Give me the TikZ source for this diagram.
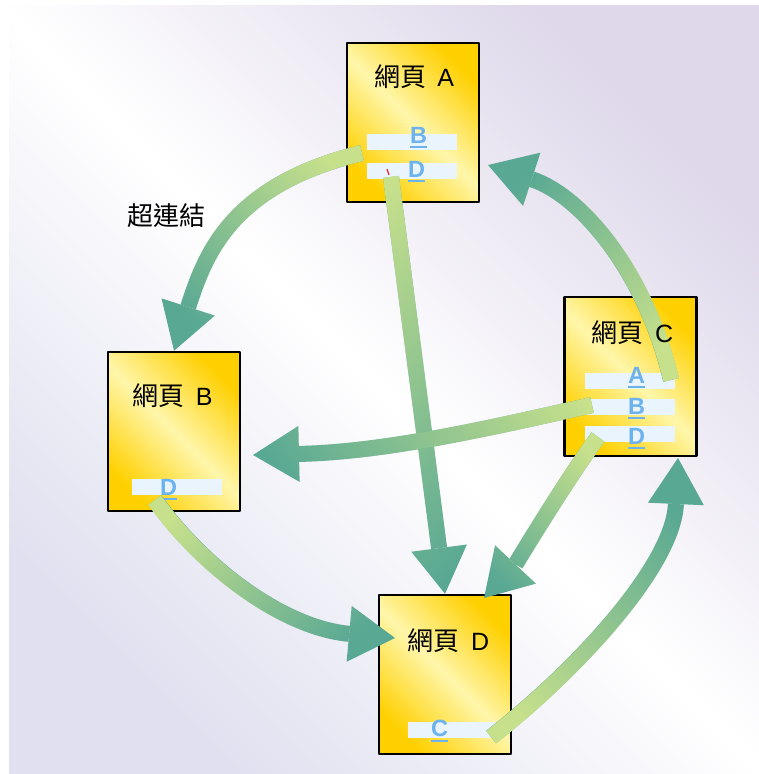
\documentclass[tikz,border=0pt]{standalone}
\usepackage{fontspec}
\setmainfont{Liberation Sans}
\newfontfamily\cjk{Noto Sans CJK TC}[Scale=1.04]
\usetikzlibrary{arrows.meta,fadings}

\definecolor{gold}{RGB}{255,208,0}
\definecolor{paleyellow}{RGB}{255,246,170}
\definecolor{lavtop}{RGB}{222,216,234}
\definecolor{lavbot}{RGB}{224,224,240}
\definecolor{barblue}{RGB}{234,244,252}
\definecolor{linkblue}{RGB}{108,178,236}
\definecolor{tailgreen}{RGB}{198,224,140}
\definecolor{headteal}{RGB}{88,168,148}

\tikzfading[name=tailfade, left color=transparent!0, right color=transparent!100]

% underlined link letter
\newcommand\ulk[1]{\setbox0=\hbox{#1}\rlap{\rule[-5pt]{\wd0}{2pt}}\box0}

\tikzset{
  pagebox/.style={draw=black, line width=2.5pt, minimum width=132pt, minimum height=159pt, inner sep=0pt,
    top color=gold, bottom color=gold, middle color=paleyellow, shading angle=-45},
  pagetitle/.style={font=\fontsize{25}{27}\selectfont, anchor=base, inner sep=0pt},
  linkbar/.style={fill=barblue, minimum width=90pt, minimum height=16pt, inner sep=0pt},
  linktext/.style={text=linkblue, font=\fontsize{23.5}{24}\selectfont\bfseries, anchor=base, inner sep=0pt},
  hyper/.style={line width=16pt, draw=headteal,
    -{Triangle[length=46pt, width=56pt, line width=0pt]},
    postaction={draw=tailgreen, path fading=tailfade, fading angle=#1}}
}

\begin{document}
\begin{tikzpicture}[x=1pt, y=-1pt, line join=round]
 % background
 \fill[white] (0,0) rectangle (759,774);
 \shade[top color=lavtop, bottom color=lavbot, middle color=white, shading angle=-45] (9,5) rectangle (759,774);
 \useasboundingbox (0,0) rectangle (759,774);

 % pages
 \node[pagebox] (pA) at (413,122.5) {};
 \node[pagebox] (pB) at (174,431.5) {};
 \node[pagebox] (pC) at (630.5,376.5) {};
 \node[pagebox] (pD) at (445,674.5) {};

 % link bars
 \node[linkbar] (lAB) at (412,142) {};
 \node[linkbar] (lAD) at (412,171) {};
 \node[linkbar] (lCA) at (630,381) {};
 \node[linkbar] (lCB) at (630,407) {};
 \node[linkbar] (lCD) at (630,434) {};
 \node[linkbar] (lBD) at (177,487) {};
 \node[linkbar] (lDC) at (453,730) {};

 \node[linktext] (kAB) at (418.5,143) {\ulk{B}};
 \node[linktext] (kAD) at (416.5,177) {\ulk{D}};
 \node[linktext] (kCA) at (636.5,383) {\ulk{A}};
 \node[linktext] (kCB) at (636.5,414) {\ulk{B}};
 \node[linktext] (kCD) at (636.5,444) {\ulk{D}};
 \node[linktext] (kBD) at (168.5,495) {\ulk{D}};
 \node[linktext] (kDC) at (439.5,736.5) {\ulk{C}};

 \draw[red, line width=1pt] (387,169) -- (389,175);

 \node[pagetitle] (hl) at (166.5,225) {\cjk 超連結};

 % hyperlinks
 \coordinate (sAB) at (362,153);
 \coordinate (sAD) at (391,177);
 \coordinate (sCA) at (671,380);
 \coordinate (sCB) at (592,405);
 \coordinate (sCD) at (598,437);
 \coordinate (sBD) at (155,500);
 \coordinate (sDC) at (491,737);
 \coordinate (hCA) at (488,165);
 \coordinate (hCB) at (253,455);
 \coordinate (hCD) at (484,598);
 \coordinate (hBD) at (395,638);
 \coordinate (hDC) at (678,458);

 \draw[hyper=226] (sAB) .. controls (230,185) and (205,255) .. (pB.north);
 \draw[hyper=277] (sAD) -- (pD.north);
 \draw[hyper=130] (sCA) .. controls (645,270) and (580,195) .. (hCA);
 \draw[hyper=188] (sCB) .. controls (482,430) and (383,452) .. (hCB);
 \draw[hyper=235] (sCD) .. controls (565,482) and (515,565) .. (hCD);
 \draw[hyper=330] (sBD) .. controls (205,570) and (285,628) .. (hBD);
 \draw[hyper=56] (sDC) .. controls (571,675) and (673,568) .. (hDC);

 % page titles
 \node[pagetitle] (tA) at (414,86.5) {{\cjk 網頁}\hspace{0.45em}A};
 \node[pagetitle] (tB) at (172.5,405) {{\cjk 網頁}\hspace{0.45em}B};
 \node[pagetitle] (tC) at (632.5,342.5) {{\cjk 網頁}\hspace{0.45em}C};
 \node[pagetitle] (tD) at (448.5,650.5) {{\cjk 網頁}\hspace{0.45em}D};
\end{tikzpicture}
\end{document}
